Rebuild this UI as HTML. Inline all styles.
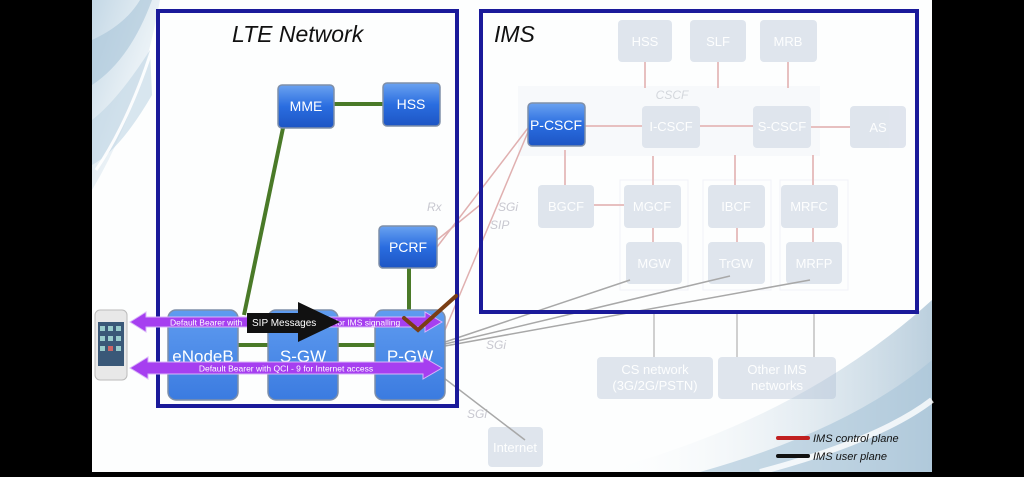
<!DOCTYPE html>
<html><head><meta charset="utf-8"><style>
body{margin:0;width:1024px;height:472px;overflow:hidden;background:#000;font-family:"Liberation Sans",sans-serif}
</style></head><body>
<svg width="1024" height="472" xmlns="http://www.w3.org/2000/svg" font-family="Liberation Sans, sans-serif">
<defs>
<linearGradient id="bl" x1="0" y1="0" x2="0" y2="1"><stop offset="0" stop-color="#6aa2f0"/><stop offset="0.5" stop-color="#2a6de0"/><stop offset="1" stop-color="#1d55c4"/></linearGradient>
<linearGradient id="bl2" x1="0" y1="0" x2="0" y2="1"><stop offset="0" stop-color="#5f9cf0"/><stop offset="1" stop-color="#3b7be0"/></linearGradient>
<linearGradient id="sw" x1="0" y1="0" x2="1" y2="1"><stop offset="0" stop-color="#c4d8e6"/><stop offset="0.5" stop-color="#e8f0f5"/><stop offset="1" stop-color="#fff"/></linearGradient>
<linearGradient id="sw2" x1="0" y1="0" x2="1" y2="0"><stop offset="0" stop-color="#fff" stop-opacity="0"/><stop offset="1" stop-color="#8fb0c8"/></linearGradient>
</defs>
<rect x="92" y="0" width="840" height="472" fill="#fdfefe"/>
<path d="M92 0 H160 Q140 110 92 190 Z" fill="url(#sw)"/>
<path d="M92 40 Q125 25 140 0 L152 0 Q130 60 92 85 Z" fill="#a8c4d8" opacity="0.6"/>
<path d="M92 120 Q118 100 150 50 L152 95 Q120 150 92 165 Z" fill="#c0d5e4" opacity="0.6"/>
<path d="M96 170 Q130 120 155 40" stroke="#fff" stroke-width="3" fill="none" opacity="0.9"/>
<path d="M600 472 Q800 420 932 300 L932 472 Z" fill="url(#sw2)" opacity="0.6"/>
<path d="M700 472 Q850 430 932 360 L932 472 Z" fill="#a8c4d8" opacity="0.6"/>
<path d="M760 472 Q880 440 932 400" stroke="#fff" stroke-width="6" fill="none" opacity="0.8"/>

<g opacity="0.35">
<rect x="518" y="86" width="302" height="70" fill="#eef1f6"/>
<rect x="620" y="180" width="68" height="110" fill="none" stroke="#dde"/>
<rect x="703" y="180" width="68" height="110" fill="none" stroke="#dde"/>
<rect x="780" y="180" width="68" height="110" fill="none" stroke="#dde"/>
<g stroke="#c05050" stroke-width="2">
<line x1="645" y1="62" x2="645" y2="88"/><line x1="718" y1="62" x2="718" y2="88"/><line x1="788" y1="62" x2="788" y2="88"/>
<line x1="585" y1="126" x2="642" y2="126"/><line x1="700" y1="126" x2="753" y2="126"/><line x1="811" y1="127" x2="850" y2="127"/>
<line x1="565" y1="150" x2="565" y2="185"/><line x1="653" y1="156" x2="653" y2="185"/><line x1="735" y1="155" x2="735" y2="185"/><line x1="813" y1="155" x2="813" y2="185"/>
<line x1="594" y1="205" x2="624" y2="205"/>
<line x1="653" y1="228" x2="653" y2="242"/><line x1="737" y1="228" x2="737" y2="242"/><line x1="813" y1="228" x2="813" y2="242"/>
</g>
<g fill="#a8b8d0">
<rect x="618" y="20" width="54" height="42" rx="4"/><rect x="690" y="20" width="56" height="42" rx="4"/><rect x="760" y="20" width="57" height="42" rx="4"/>
<rect x="642" y="106" width="58" height="42" rx="4"/><rect x="753" y="106" width="58" height="42" rx="4"/><rect x="850" y="106" width="56" height="42" rx="4"/>
<rect x="538" y="185" width="56" height="43" rx="4"/><rect x="624" y="185" width="57" height="43" rx="4"/><rect x="708" y="185" width="57" height="43" rx="4"/><rect x="781" y="185" width="57" height="43" rx="4"/>
<rect x="626" y="242" width="56" height="42" rx="4"/><rect x="708" y="242" width="57" height="42" rx="4"/><rect x="786" y="242" width="56" height="42" rx="4"/>
<rect x="597" y="357" width="116" height="42" rx="4"/><rect x="718" y="357" width="118" height="42" rx="4"/>
<rect x="488" y="427" width="55" height="40" rx="4"/>
</g>
<g fill="#fff" font-size="13" text-anchor="middle">
<text x="645" y="46">HSS</text><text x="718" y="46">SLF</text><text x="788" y="46">MRB</text>
<text x="671" y="131">I-CSCF</text><text x="782" y="131">S-CSCF</text><text x="878" y="132">AS</text>
<text x="566" y="211">BGCF</text><text x="652" y="211">MGCF</text><text x="736" y="211">IBCF</text><text x="809" y="211">MRFC</text>
<text x="654" y="268">MGW</text><text x="736" y="268">TrGW</text><text x="814" y="268">MRFP</text>
<text x="655" y="374">CS network</text><text x="655" y="390">(3G/2G/PSTN)</text>
<text x="777" y="374">Other IMS</text><text x="777" y="390">networks</text>
<text x="515" y="452">Internet</text>
</g>
<text x="672" y="99" font-size="12" font-style="italic" fill="#8890a0" text-anchor="middle">CSCF</text>
</g>
<g fill="#c8c8d0" font-size="12" font-style="italic">
<text x="427" y="211">Rx</text><text x="498" y="211">SGi</text><text x="490" y="229">SIP</text>
<text x="486" y="349">SGi</text><text x="467" y="418">SGi</text>
</g>
<g stroke="#e0b0b0" stroke-width="1.5">
<line x1="437" y1="247" x2="528" y2="128"/><line x1="445" y1="330" x2="528" y2="132"/><line x1="437" y1="240" x2="480" y2="205"/>
</g>
<g stroke="#a8a8a8" stroke-width="1.5">
<line x1="445" y1="342" x2="630" y2="280"/><line x1="445" y1="344" x2="730" y2="276"/><line x1="445" y1="346" x2="810" y2="280"/>
<line x1="440" y1="375" x2="525" y2="440"/>
</g>
<g stroke="#c0c0c0" stroke-width="1.5"><line x1="654" y1="313" x2="654" y2="357"/><line x1="737" y1="313" x2="737" y2="357"/><line x1="814" y1="313" x2="814" y2="357"/></g>

<rect x="158" y="11" width="299" height="395" fill="none" stroke="#1a1a9a" stroke-width="4"/>
<rect x="481" y="11" width="436" height="301" fill="none" stroke="#1a1a9a" stroke-width="4"/>
<text x="232" y="42" font-size="23" font-style="italic" fill="#111">LTE Network</text>
<text x="494" y="42" font-size="23" font-style="italic" fill="#111">IMS</text>

<g stroke="#4a7a28" stroke-width="4" fill="none">
<line x1="334" y1="104" x2="383" y2="104"/><line x1="283" y1="128" x2="244" y2="315"/><line x1="409" y1="268" x2="409" y2="315"/>
<line x1="238" y1="345" x2="268" y2="345"/><line x1="338" y1="345" x2="375" y2="345"/>
</g>

<g stroke="#7f8fa8" stroke-width="1.5">
<rect x="278" y="85" width="56" height="43" rx="4" fill="url(#bl)"/>
<rect x="383" y="83" width="57" height="43" rx="4" fill="url(#bl)"/>
<rect x="379" y="226" width="58" height="42" rx="4" fill="url(#bl)"/>
<rect x="528" y="103" width="57" height="43" rx="4" fill="url(#bl)"/>
<rect x="168" y="310" width="70" height="90" rx="8" fill="url(#bl2)"/>
<rect x="268" y="310" width="70" height="90" rx="8" fill="url(#bl2)"/>
<rect x="375" y="310" width="70" height="90" rx="8" fill="url(#bl2)"/>
</g>
<g fill="#fff" font-size="14" text-anchor="middle">
<text x="306" y="111">MME</text><text x="411" y="109">HSS</text><text x="408" y="252">PCRF</text><text x="556" y="130">P-CSCF</text>
<text x="203" y="362" font-size="17">eNodeB</text><text x="303" y="362" font-size="17">S-GW</text><text x="410" y="362" font-size="17">P-GW</text>
</g>

<rect x="95" y="310" width="32" height="70" rx="5" fill="#e8e8e8" stroke="#bbb"/>
<rect x="98" y="322" width="26" height="44" fill="#3a5878"/>
<g fill="#9cc">
<rect x="100" y="326" width="5" height="5"/><rect x="108" y="326" width="5" height="5"/><rect x="116" y="326" width="5" height="5"/>
<rect x="100" y="336" width="5" height="5"/><rect x="108" y="336" width="5" height="5"/><rect x="116" y="336" width="5" height="5"/>
<rect x="100" y="346" width="5" height="5"/><rect x="108" y="346" width="5" height="5" fill="#c66"/><rect x="116" y="346" width="5" height="5"/>
</g>

<g fill="#a63ff0" stroke="#d9b6f8" stroke-width="1">
<polygon points="130,322 146,312 146,317 425,317 425,312 442,322 425,332 425,327 146,327 146,332"/>
<polygon points="130,368 148,357 148,362 423,362 423,357 442,368 423,379 423,374 148,374 148,379"/>
</g>
<text x="170" y="325.5" font-size="8.5" fill="#fff">Default Bearer with</text>
<text x="335" y="325.5" font-size="8.5" fill="#fff">for IMS signalling</text>
<text x="286" y="371.5" font-size="8.5" fill="#fff" text-anchor="middle">Default Bearer with QCI - 9 for Internet access</text>

<polygon points="247,313 298,313 298,302 340,322 298,342 298,333 247,333" fill="#111"/>
<text x="252" y="326" font-size="10" fill="#fff">SIP Messages</text>

<path d="M404 318 L418 330 L456 296" stroke="#7a3e14" stroke-width="4" fill="none" stroke-linecap="round"/>

<line x1="778" y1="438" x2="808" y2="438" stroke="#c02020" stroke-width="4" stroke-linecap="round"/>
<line x1="778" y1="456" x2="808" y2="456" stroke="#111" stroke-width="4" stroke-linecap="round"/>
<text x="813" y="442" font-size="11" font-style="italic" fill="#111">IMS control plane</text>
<text x="813" y="460" font-size="11" font-style="italic" fill="#111">IMS user plane</text>
</svg>
</body></html>
